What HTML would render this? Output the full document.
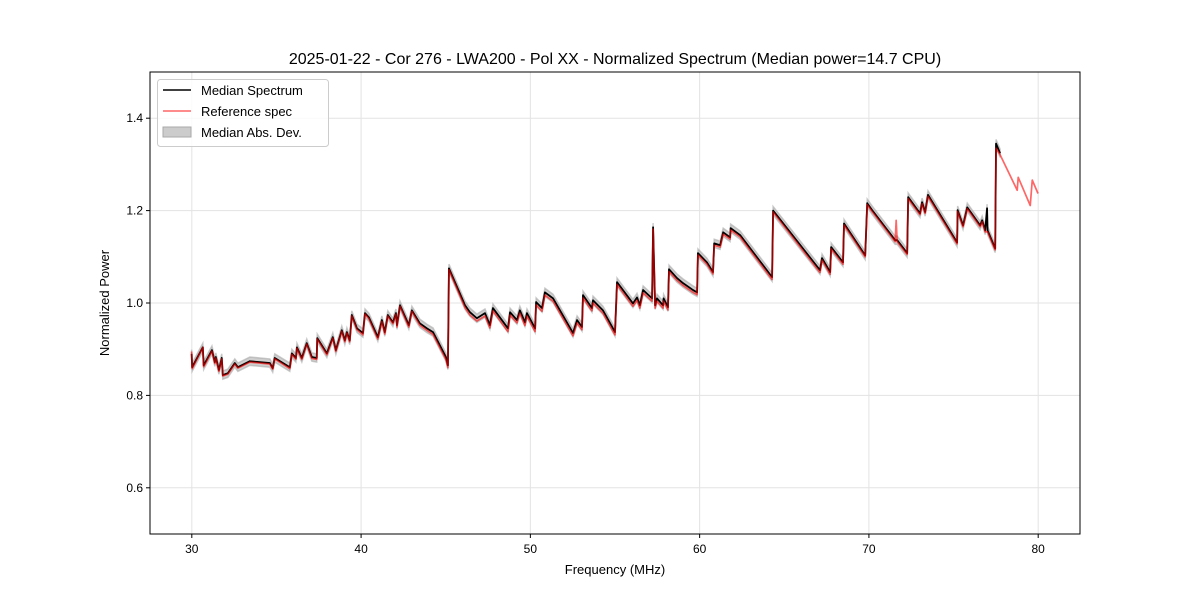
<!DOCTYPE html>
<html><head><meta charset="utf-8"><style>
body{margin:0;background:#fff}
svg text{font-family:"Liberation Sans","DejaVu Sans",sans-serif;fill:#000}
</style></head><body>
<svg id="chart" width="1200" height="600" xmlns="http://www.w3.org/2000/svg"></svg>
<script>
const medFreq=[29.99,30.02,30.65,30.7,31.19,31.36,31.42,31.60,31.77,31.83,32.13,32.54,32.72,33.43,34.61,34.78,34.90,35.79,35.91,36.15,36.21,36.50,36.79,37.09,37.38,37.41,37.98,38.33,38.51,38.86,39.04,39.16,39.33,39.45,39.76,40.11,40.23,40.46,40.99,41.23,41.40,41.58,41.88,42.06,42.12,42.30,42.82,43.00,43.47,43.89,44.25,45.01,45.13,45.19,46.14,46.43,46.84,47.32,47.61,47.79,48.68,48.80,49.21,49.38,49.68,49.80,50.28,50.34,50.69,50.86,51.34,52.52,52.76,53.05,53.11,53.64,53.70,54.29,55.00,55.12,56.06,56.30,56.47,56.66,57.19,57.25,57.37,57.48,57.84,57.87,58.13,58.19,58.66,59.02,59.61,59.85,59.90,60.43,60.79,60.86,61.21,61.39,61.80,61.83,62.39,64.28,64.34,67.11,67.23,67.71,67.77,68.47,68.53,69.78,69.90,70.19,71.55,71.67,72.26,72.32,73.02,73.14,73.32,73.49,75.21,75.24,75.56,75.81,76.57,76.69,76.87,76.98,77.01,77.46,77.51,77.75];
const medVals=[0.89,0.861,0.904,0.865,0.898,0.872,0.883,0.855,0.881,0.844,0.848,0.870,0.861,0.874,0.870,0.859,0.881,0.861,0.891,0.881,0.904,0.881,0.913,0.883,0.881,0.924,0.891,0.926,0.898,0.941,0.919,0.937,0.919,0.974,0.945,0.935,0.978,0.969,0.926,0.963,0.937,0.974,0.958,0.978,0.952,0.995,0.952,0.984,0.956,0.945,0.937,0.883,0.865,1.075,0.995,0.980,0.967,0.978,0.952,0.989,0.945,0.980,0.963,0.984,0.958,0.978,0.945,1.002,0.989,1.023,1.010,0.935,0.963,0.948,1.017,0.989,1.006,0.984,0.937,1.045,0.999,1.012,0.995,1.028,1.010,1.164,0.995,1.010,0.995,1.010,0.991,1.073,1.054,1.043,1.028,1.023,1.108,1.088,1.067,1.129,1.125,1.153,1.142,1.162,1.147,1.056,1.200,1.071,1.097,1.067,1.121,1.088,1.172,1.103,1.216,1.201,1.136,1.136,1.108,1.229,1.194,1.218,1.197,1.234,1.131,1.201,1.168,1.207,1.168,1.179,1.157,1.205,1.157,1.118,1.345,1.324];
const refFreq=[29.99,30.02,30.65,30.7,31.19,31.36,31.42,31.60,31.77,31.83,32.13,32.54,32.72,33.43,34.61,34.78,34.90,35.79,35.91,36.15,36.21,36.50,36.79,37.09,37.38,37.41,37.98,38.33,38.51,38.86,39.04,39.16,39.33,39.45,39.76,40.11,40.23,40.46,40.99,41.23,41.40,41.58,41.88,42.06,42.12,42.30,42.82,43.00,43.47,43.89,44.25,45.01,45.13,45.19,46.14,46.43,46.84,47.32,47.61,47.79,48.68,48.80,49.21,49.38,49.68,49.80,50.28,50.34,50.69,50.86,51.34,52.52,52.76,53.05,53.11,53.64,53.70,54.29,55.00,55.12,56.06,56.30,56.47,56.66,57.19,57.25,57.37,57.48,57.84,57.87,58.13,58.19,58.66,59.02,59.61,59.85,59.90,60.43,60.79,60.86,61.21,61.39,61.80,61.83,62.39,64.28,64.34,67.11,67.23,67.71,67.77,68.47,68.53,69.78,69.90,70.19,71.55,71.61,71.67,72.26,72.32,73.02,73.14,73.32,73.49,75.21,75.24,75.56,75.81,76.57,76.69,76.87,77.01,77.46,77.51,77.75,78.76,78.82,79.53,79.65,79.99];
const refVals=[0.895,0.858,0.904,0.862,0.896,0.869,0.881,0.852,0.879,0.842,0.846,0.868,0.859,0.872,0.868,0.857,0.879,0.858,0.889,0.878,0.902,0.878,0.911,0.880,0.878,0.922,0.888,0.924,0.895,0.939,0.916,0.935,0.916,0.972,0.942,0.931,0.976,0.966,0.922,0.960,0.933,0.972,0.955,0.976,0.948,0.993,0.948,0.982,0.952,0.941,0.932,0.878,0.86,1.072,0.99,0.974,0.961,0.972,0.946,0.983,0.938,0.974,0.957,0.978,0.951,0.972,0.938,0.996,0.982,1.017,1.004,0.929,0.957,0.942,1.011,0.983,1.0,0.978,0.931,1.04,0.993,1.006,0.989,1.022,1.004,1.16,0.989,1.004,0.989,1.004,0.985,1.068,1.049,1.038,1.023,1.018,1.104,1.084,1.063,1.125,1.121,1.149,1.138,1.158,1.143,1.051,1.197,1.066,1.093,1.062,1.117,1.084,1.169,1.1,1.213,1.198,1.133,1.179,1.133,1.105,1.226,1.191,1.215,1.194,1.231,1.128,1.198,1.165,1.204,1.165,1.176,1.154,1.154,1.115,1.335,1.321,1.244,1.272,1.211,1.266,1.237];
const madValue=0.009;
const xTicks=[30,40,50,60,70,80];
const yTicks=[0.6,0.8,1.0,1.2,1.4];

const NS="http://www.w3.org/2000/svg";
const svg=document.getElementById('chart');
const L=150,R=1080,T=72,B=534;
const xMin=27.53,xMax=82.47,yMin=0.5,yMax=1.5;
const X=f=>L+(f-xMin)/(xMax-xMin)*(R-L);
const Y=v=>B-(v-yMin)/(yMax-yMin)*(B-T);
function mk(tag,attrs,parent){const e=document.createElementNS(NS,tag);for(const k in attrs)e.setAttribute(k,attrs[k]);(parent||svg).appendChild(e);return e;}

const grid=mk('g',{});


xTicks.forEach(t=>{
  const l=mk('line',{x1:X(t),x2:X(t),y1:T,y2:B,stroke:'#e3e3e3','stroke-width':1},grid);
  
  
  const tk=mk('line',{x1:X(t),x2:X(t),y1:B,y2:B+4,stroke:'#000'});
  
  
  const tx=mk('text',{x:X(t),y:B+19,'text-anchor':'middle','font-size':12});
  tx.textContent=t;
  
  
});
yTicks.forEach(t=>{
  const l=mk('line',{x1:L,x2:R,y1:Y(t),y2:Y(t),stroke:'#e3e3e3','stroke-width':1},grid);
  
  
  const tk=mk('line',{x1:L-4,x2:L,y1:Y(t),y2:Y(t),stroke:'#000'});
  
  
  const tx=mk('text',{x:L-7,y:Y(t)+4,'text-anchor':'end','font-size':12});
  tx.textContent=t.toFixed(1);
  
  
});

let up=medFreq.map((f,i)=>X(f)+','+Y(medVals[i]+madValue));
let dn=medFreq.map((f,i)=>X(f)+','+Y(medVals[i]-madValue)).reverse();
const band=mk('polygon',{points:up.concat(dn).join(' '),fill:'#bbb','fill-opacity':0.7,stroke:'#aaa','stroke-width':1.5,'stroke-opacity':0.6});



const med=mk('polyline',{points:medFreq.map((f,i)=>X(f)+','+Y(medVals[i])).join(' '),fill:'none',stroke:'#000','stroke-width':1.8,'stroke-linejoin':'round'});



const ref=mk('polyline',{points:refFreq.map((f,i)=>X(f)+','+Y(refVals[i])).join(' '),fill:'none',stroke:'#ff0000','stroke-opacity':0.6,'stroke-width':1.7,'stroke-linejoin':'round'});



const frame=mk('rect',{x:L,y:T,width:R-L,height:B-T,fill:'none',stroke:'#000','stroke-width':1});


</script>
<svg width="1200" height="600" style="position:absolute;left:0;top:0">
<text x="615" y="64" text-anchor="middle" font-size="16">2025-01-22 - Cor 276 - LWA200 - Pol XX - Normalized Spectrum (Median power=14.7 CPU)</text>
<text x="615" y="574" text-anchor="middle" font-size="13">Frequency (MHz)</text>
<text x="109" y="303" text-anchor="middle" font-size="13" transform="rotate(-90 109 303)">Normalized Power</text>
<g>
<rect x="157.5" y="79.5" width="171" height="67" rx="3" fill="#fff" fill-opacity="0.8" stroke="#ccc"/>
<line x1="163" x2="191" y1="90" y2="90" stroke="#000" stroke-width="1.6"/>
<text x="201" y="95" font-size="13">Median Spectrum</text>
<line x1="163" x2="191" y1="111" y2="111" stroke="#ff0000" stroke-opacity="0.6" stroke-width="1.6"/>
<text x="201" y="116" font-size="13">Reference spec</text>
<rect x="163" y="127" width="28" height="10" fill="#ccc" stroke="#aaa"/>
<text x="201" y="137" font-size="13">Median Abs. Dev.</text>
</g>
</svg>
</body></html>
